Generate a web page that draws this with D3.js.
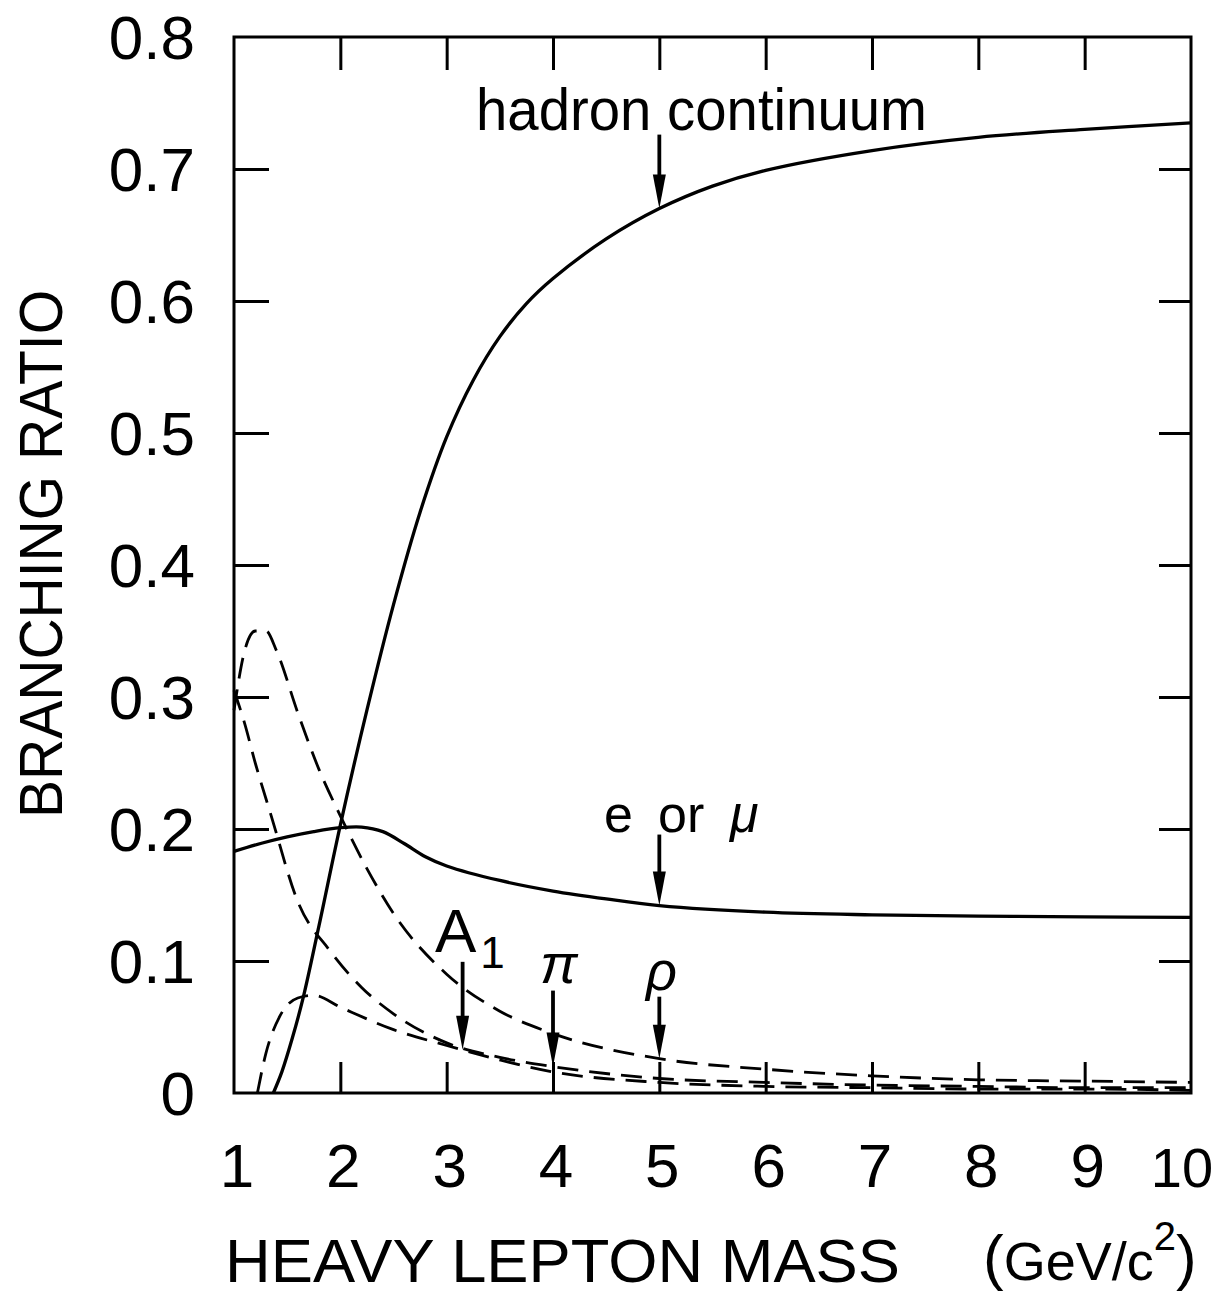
<!DOCTYPE html>
<html>
<head>
<meta charset="utf-8">
<script src="https://cdn.jsdelivr.net/npm/d3@7"></script>
<style>
  html, body { margin: 0; padding: 0; background: #fff; }
  svg { display: block; }
  text { font-family: "Liberation Sans", "DejaVu Sans", sans-serif; fill: #000; }
</style>
</head>
<body>
<svg id="chart" width="1224" height="1294"></svg>
<script>
// ---------------- data ----------------
const xTicks = [1, 2, 3, 4, 5, 6, 7, 8, 9, 10];
const yTicks = [0, 0.1, 0.2, 0.3, 0.4, 0.5, 0.6, 0.7, 0.8];

const hadronMass = [1.37, 1.45, 1.55, 1.65, 1.8, 2.0, 2.25, 2.5, 2.75, 3.0, 3.25, 3.5, 3.75, 4.0, 4.5, 5.0, 5.5, 6.0, 7.0, 8.0, 9.0, 10.0];
const hadronBR   = [0, 0.016, 0.042, 0.072, 0.127, 0.203, 0.29, 0.37, 0.44, 0.497, 0.54, 0.573, 0.598, 0.617, 0.647, 0.670, 0.687, 0.699, 0.714, 0.724, 0.730, 0.735];

const lepMass = [1, 1.25, 1.5, 1.75, 2.0, 2.2, 2.4, 2.6, 2.8, 3.0, 3.5, 4.0, 4.5, 5.0, 6.0, 7.0, 8.0, 9.0, 10.0];
const lepBR   = [0.183, 0.189, 0.194, 0.198, 0.201, 0.2015, 0.198, 0.189, 0.179, 0.172, 0.161, 0.153, 0.147, 0.142, 0.137, 0.135, 0.134, 0.1335, 0.133];

const rhoMass = [1, 1.1, 1.2, 1.3, 1.4, 1.6, 1.8, 2.0, 2.25, 2.5, 3.0, 3.5, 4.0, 5.0, 6.0, 7.0, 8.0, 9.0, 10.0];
const rhoBR   = [0.29, 0.335, 0.35, 0.35, 0.335, 0.288, 0.245, 0.21, 0.17, 0.136, 0.09, 0.062, 0.045, 0.026, 0.018, 0.013, 0.010, 0.009, 0.008];

const piMass = [1, 1.1, 1.2, 1.35, 1.6, 1.9, 2.2, 2.5, 3.0, 3.5, 4.0, 5.0, 6.0, 7.0, 8.0, 9.0, 10.0];
const piBR   = [0.305, 0.28, 0.25, 0.21, 0.145, 0.108, 0.08, 0.06, 0.038, 0.027, 0.02, 0.011, 0.008, 0.006, 0.005, 0.004, 0.004];

const a1Mass = [1.22, 1.3, 1.43, 1.6, 1.75, 2.0, 2.5, 3.0, 3.5, 4.0, 5.0, 6.0, 7.0, 8.0, 9.0, 10.0];
const a1BR   = [0, 0.03, 0.058, 0.072, 0.074, 0.065, 0.048, 0.036, 0.025, 0.016, 0.008, 0.005, 0.004, 0.003, 0.003, 0.002];

// annotation arrows: mass where the arrow points
const arrowMass = { hadron: 5.0, lep: 5.0, a1: 3.15, pi: 4.0, rho: 5.0 };

// ---------------- layout ----------------
const L = 234, R = 1191, T = 37, B = 1093;
const svg = d3.select("#chart");
const x = d3.scaleLinear().domain([1, 10]).range([L, R]);
const y = d3.scaleLinear().domain([0, 0.8]).range([B, T]);

// frame
svg.append("rect").attr("x", L).attr("y", T).attr("width", R - L).attr("height", B - T)
  .attr("fill", "none").attr("stroke", "#000").attr("stroke-width", 3);

// axes (ticks inward)
const innerX = xTicks.slice(1, -1);
const innerY = yTicks.slice(1, -1);
function styleAxis(g) {
  g.select(".domain").remove();
  g.selectAll(".tick line").attr("stroke", "#000").attr("stroke-width", 3);
}
svg.append("g").attr("transform", `translate(0,${B})`)
  .call(d3.axisBottom(x).tickValues(innerX).tickSize(-31).tickFormat(""))
  .call(styleAxis);
svg.append("g").attr("transform", `translate(0,${T})`)
  .call(d3.axisTop(x).tickValues(innerX).tickSize(-33).tickFormat(""))
  .call(styleAxis);
svg.append("g").attr("transform", `translate(${L},0)`)
  .call(d3.axisLeft(y).tickValues(innerY).tickSize(-35).tickFormat(""))
  .call(styleAxis);
svg.append("g").attr("transform", `translate(${R},0)`)
  .call(d3.axisRight(y).tickValues(innerY).tickSize(-32).tickFormat(""))
  .call(styleAxis);

// tick labels
svg.append("g").selectAll("text").data(yTicks).join("text")
  .attr("x", 195).attr("y", d => y(d)).attr("dy", "0.36em")
  .attr("text-anchor", "end").attr("font-size", 62)
  .text(d => d === 0 ? "0" : d3.format(".1f")(d));
svg.append("g").selectAll("text").data(xTicks).join("text")
  .attr("x", d => d < 10 ? x(d) + 3 : x(d) - 9).attr("y", 1187)
  .attr("text-anchor", "middle").attr("font-size", d => d < 10 ? 62 : 56)
  .text(d => d);

// axis titles
svg.append("text").attr("x", 225).attr("y", 1282).attr("font-size", 61)
  .attr("textLength", 675).attr("lengthAdjust", "spacingAndGlyphs")
  .text("HEAVY LEPTON MASS");
const unit = svg.append("text").attr("x", 983).attr("y", 1278).attr("font-size", 54);
unit.append("tspan").attr("font-size", 62).text("(");
unit.append("tspan").attr("dy", 2).text("GeV/c");
unit.append("tspan").attr("font-size", 40).attr("dy", -30).text("2");
unit.append("tspan").attr("font-size", 62).attr("dy", 28).text(")");

svg.append("text")
  .attr("transform", "translate(62,554) rotate(-90)")
  .attr("text-anchor", "middle").attr("font-size", 62)
  .attr("textLength", 528).attr("lengthAdjust", "spacingAndGlyphs")
  .text("BRANCHING RATIO");

// curves
const smooth = d3.line().x(d => x(d[0])).y(d => y(d[1])).curve(d3.curveCatmullRom.alpha(0.5));
const mono = d3.line().x(d => x(d[0])).y(d => y(d[1])).curve(d3.curveMonotoneX);
const zip = (a, b) => a.map((m, i) => [m, b[i]]);
const plotArea = svg.append("g");
function drawCurve(ms, vs, dashed, gen) {
  plotArea.append("path").datum(zip(ms, vs)).attr("d", gen)
    .attr("fill", "none").attr("stroke", "#000")
    .attr("stroke-width", dashed ? 2.8 : 3.3)
    .attr("stroke-dasharray", dashed ? "21,11" : null)
    .attr("stroke-linecap", "butt");
}
drawCurve(hadronMass, hadronBR, false, smooth);
drawCurve(lepMass, lepBR, false, smooth);
drawCurve(rhoMass, rhoBR, true, mono);
drawCurve(piMass, piBR, true, mono);
drawCurve(a1Mass, a1BR, true, mono);

// arrows
function interp(ms, vs, m) {
  for (let i = 0; i < ms.length - 1; i++) {
    if (m >= ms[i] && m <= ms[i + 1]) {
      const t = (m - ms[i]) / (ms[i + 1] - ms[i]);
      return vs[i] + t * (vs[i + 1] - vs[i]);
    }
  }
  return vs[vs.length - 1];
}
function arrow(m, v, len) {
  const px = x(m), tip = y(v), top = tip - len;
  const headL = 34, headW = 6.5;
  svg.append("line").attr("x1", px).attr("x2", px).attr("y1", top).attr("y2", tip - headL + 4)
    .attr("stroke", "#000").attr("stroke-width", 3.8);
  svg.append("path")
    .attr("d", `M${px - headW},${tip - headL} L${px + headW},${tip - headL} L${px},${tip} Z`)
    .attr("fill", "#000");
}
arrow(arrowMass.hadron, interp(hadronMass, hadronBR, arrowMass.hadron), 74);
arrow(arrowMass.lep, interp(lepMass, lepBR, arrowMass.lep), 71);
arrow(arrowMass.a1, interp(a1Mass, a1BR, arrowMass.a1), 88);
arrow(arrowMass.pi, interp(piMass, piBR, arrowMass.pi), 76);
arrow(arrowMass.rho, interp(rhoMass, rhoBR, arrowMass.rho), 62);

// labels
svg.append("text").attr("x", 476).attr("y", 130).attr("font-size", 60)
  .attr("textLength", 451).attr("lengthAdjust", "spacingAndGlyphs")
  .text("hadron continuum");
const lep = svg.append("text").attr("y", 832).attr("font-size", 52);
lep.append("tspan").attr("x", 604).text("e");
lep.append("tspan").attr("x", 658).text("or");
lep.append("tspan").attr("x", 730).attr("font-style", "italic").text("μ");
const a1 = svg.append("text").attr("x", 435).attr("y", 952).attr("font-size", 62);
a1.append("tspan").text("A");
a1.append("tspan").attr("font-size", 44).attr("dx", 4).attr("dy", 16).text("1");
svg.append("text").attr("x", 540).attr("y", 983).attr("font-size", 56)
  .attr("font-style", "italic").text("π");
svg.append("text").attr("x", 646).attr("y", 990).attr("font-size", 54)
  .attr("font-style", "italic").text("ρ");
</script>
</body>
</html>
